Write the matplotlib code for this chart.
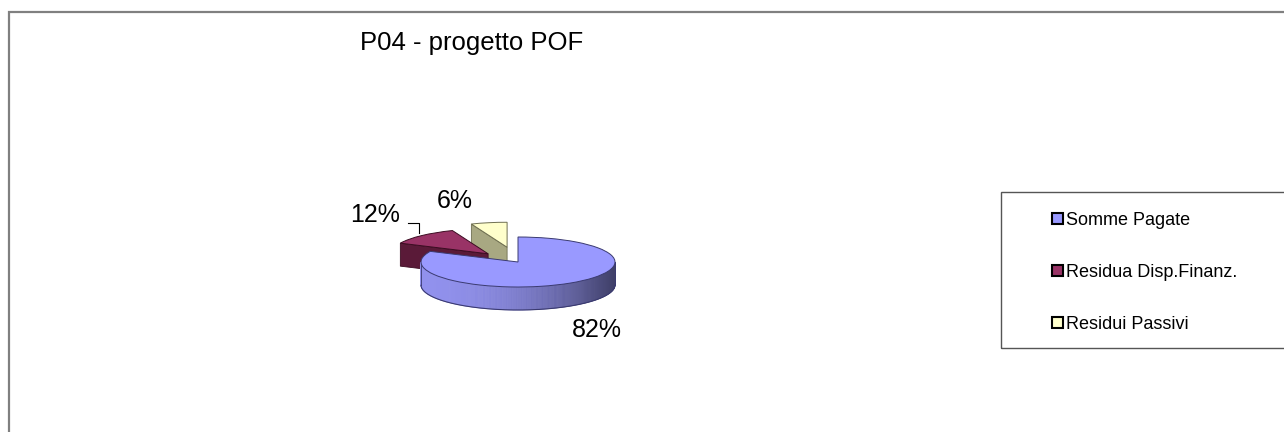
import numpy as np
import matplotlib
matplotlib.use("Agg")
import matplotlib.pyplot as plt
from matplotlib.patches import Polygon, Rectangle, Patch
from matplotlib.colors import to_rgb

plt.rcParams["font.family"] = ["Liberation Sans", "DejaVu Sans"]

# ---------------- data ----------------
title = "P04 - progetto POF"
categories = ["Somme Pagate", "Residua Disp.Finanz.", "Residui Passivi"]
values = [82, 12, 6]
percent_labels = ["82%", "12%", "6%"]

# ---------------- style ----------------
top_colors = ["#9999FF", "#993366", "#FFFFCC"]
wall_colors = ["#9494F2", "#5A1A38", "#A8A882"]
edge_colors = ["#3A3A70", "#3C0C22", "#6E6E50"]
explode = [0.0, 0.45, 0.6]
label_pos = [(0.81, -2.72), (-1.47, 1.88), (-0.65, 2.45)]

W, H = 1284, 432
fig = plt.figure(figsize=(W / 100, H / 100), dpi=100)
ax = fig.add_axes([0, 0, 1, 1])

cx_px, cy_px = 518, 262      # pie centre (pixels from top-left)
rx_px, ry_px = 97, 25        # ellipse radii in pixels
thick = 23 / ry_px           # wall thickness in data y units

wedges, _ = ax.pie(values, colors=top_colors, startangle=90, counterclock=False,
                   explode=explode, radius=1,
                   wedgeprops=dict(linewidth=0.7, zorder=10))
for w, ec in zip(wedges, edge_colors):
    w.set_edgecolor(ec)

# 3-D walls derived from the wedges returned by the library
order = sorted(range(len(wedges)), key=lambda i: -wedges[i].center[1])
z = 2
for i in order:
    w = wedges[i]
    cx, cy = w.center
    r = w.r
    t1, t2 = np.deg2rad(w.theta1), np.deg2rad(w.theta2)
    base = np.array(to_rgb(wall_colors[i]))
    # radial faces
    for ang, visible in ((t1, np.cos(t1) > 1e-6), (t2, np.cos(t2) < -1e-6)):
        if visible:
            px, py = cx + r * np.cos(ang), cy + r * np.sin(ang)
            poly = Polygon([(cx, cy), (px, py), (px, py - thick), (cx, cy - thick)],
                           closed=True, facecolor=base, edgecolor=edge_colors[i],
                           linewidth=0.6, zorder=z)
            ax.add_patch(poly)
            z += 1
    # outer wall (front-facing part only)
    angs = np.linspace(t1, t2, 400)
    for a, b in zip(angs[:-1], angs[1:]):
        m = 0.5 * (a + b)
        if np.sin(m) < 0:
            tt = (np.cos(m) + 1) / 2
            mult = 0.98 - 0.55 * tt ** 2
            col = np.clip(base * mult, 0, 1)
            xa, ya = cx + r * np.cos(a), cy + r * np.sin(a)
            xb, yb = cx + r * np.cos(b), cy + r * np.sin(b)
            ax.add_patch(Polygon([(xa, ya), (xb, yb), (xb, yb - thick), (xa, ya - thick)],
                                 closed=True, facecolor=col, edgecolor=col,
                                 linewidth=0.5, zorder=z))
    front = angs[np.sin(angs) < 0]
    if len(front):
        ax.plot(cx + r * np.cos(front), cy + r * np.sin(front) - thick,
                color=edge_colors[i], lw=0.8, zorder=z + 1)
        for a in (front[0], front[-1]):
            ax.plot([cx + r * np.cos(a)] * 2,
                    [cy + r * np.sin(a), cy + r * np.sin(a) - thick],
                    color=edge_colors[i], lw=0.6, zorder=z + 1)
    z += 2

# percentage labels
for lab, (lx, ly) in zip(percent_labels, label_pos):
    ax.text(lx, ly, lab, ha="center", va="center", fontsize=18, color="black", zorder=20)
# leader line for the small slice
ax.plot([-1.134, -1.02, -1.02], [1.56, 1.56, 1.16], color="black", lw=0.8, zorder=20)

ax.set_xlim(-cx_px / rx_px, (W - cx_px) / rx_px)
ax.set_ylim(-(H - cy_px) / ry_px, cy_px / ry_px)
ax.set_aspect("auto")
ax.axis("off")

# title
fig.text(360 / W, 1 - 50 / H, title, ha="left", va="baseline", fontsize=18.5)

# outer chart border (only left/top visible)
fig.patches.append(Rectangle((8.5 / W, -0.2), 1.5, 1.2 - 12.5 / H,
                             transform=fig.transFigure, fill=False,
                             edgecolor="#808080", linewidth=1.6))

# legend frame
fig.patches.append(Rectangle((1001 / W, 1 - 348 / H), 0.5, 156 / H,
                             transform=fig.transFigure, fill=False,
                             edgecolor="#555555", linewidth=1.0))
handles = [Patch(facecolor=c, edgecolor="black", linewidth=1.5) for c in top_colors]
fig.legend(handles, categories, loc="upper left",
           bbox_to_anchor=(1052 / W, 1 - 212 / H), frameon=False,
           fontsize=13, handlelength=0.6, handleheight=0.6,
           handletextpad=0.15, labelspacing=1.93, borderpad=0, borderaxespad=0)

fig.savefig("out.png", dpi=100, facecolor="white")
